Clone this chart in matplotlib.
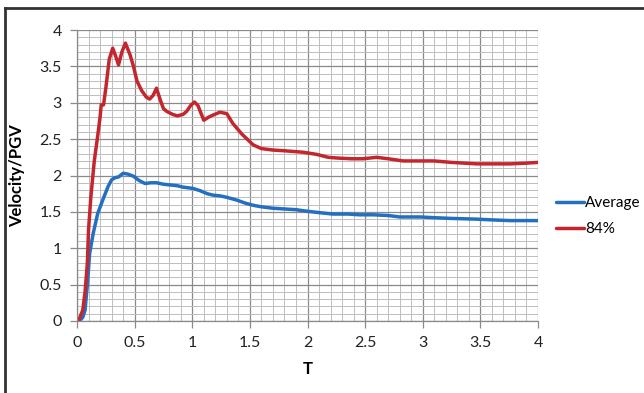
import matplotlib
matplotlib.use("Agg")
import matplotlib.pyplot as plt
from matplotlib.lines import Line2D
from matplotlib.ticker import MultipleLocator

# ---------------- data ----------------
t_avg = [0.0, 0.02, 0.05, 0.07, 0.09, 0.11, 0.14, 0.18, 0.23, 0.27, 0.3, 0.33, 0.36, 0.4, 0.44,
         0.49, 0.54, 0.59, 0.64, 0.69, 0.75, 0.81, 0.87, 0.92, 0.97, 1.01, 1.07, 1.13, 1.18,
         1.24, 1.3, 1.39, 1.46, 1.53, 1.6, 1.7, 1.8, 1.9, 1.99, 2.1, 2.22, 2.35, 2.45, 2.57,
         2.7, 2.8, 2.9, 2.98, 3.1, 3.25, 3.47, 3.6, 3.76, 3.9, 4.0]
avg = [0.0, 0.0, 0.05, 0.15, 0.5, 0.93, 1.2, 1.48, 1.69, 1.85, 1.94, 1.97, 1.98, 2.03, 2.02,
       1.99, 1.93, 1.89, 1.9, 1.9, 1.88, 1.87, 1.86, 1.84, 1.83, 1.82, 1.79, 1.75, 1.73,
       1.72, 1.7, 1.66, 1.62, 1.59, 1.57, 1.55, 1.54, 1.53, 1.51, 1.49, 1.47, 1.47, 1.46, 1.46,
       1.45, 1.43, 1.43, 1.43, 1.42, 1.41, 1.40, 1.39, 1.38, 1.38, 1.38]

t_84 = [0.0, 0.02, 0.05, 0.07, 0.09, 0.1, 0.12, 0.15, 0.18, 0.2, 0.21, 0.23, 0.25, 0.28, 0.31,
        0.34, 0.36, 0.39, 0.42, 0.46, 0.49, 0.52, 0.56, 0.6, 0.63, 0.66, 0.69, 0.72, 0.75,
        0.78, 0.83, 0.87, 0.92, 0.95, 0.99, 1.02, 1.05, 1.08, 1.1, 1.14, 1.18, 1.24, 1.3, 1.35,
        1.43, 1.53, 1.6, 1.7, 1.8, 1.96, 2.08, 2.18, 2.26, 2.38, 2.48, 2.6, 2.7, 2.83, 2.98,
        3.1, 3.25, 3.47, 3.6, 3.76, 3.9, 4.0]
p84 = [0.0, 0.03, 0.15, 0.4, 0.8, 1.25, 1.7, 2.2, 2.55, 2.8, 2.97, 2.97, 3.2, 3.6, 3.75,
       3.62, 3.52, 3.7, 3.82, 3.66, 3.5, 3.3, 3.17, 3.08, 3.05, 3.1, 3.2, 3.05, 2.92,
       2.88, 2.84, 2.82, 2.84, 2.88, 2.97, 3.01, 2.96, 2.84, 2.76, 2.8, 2.83, 2.87, 2.85, 2.72,
       2.57, 2.42, 2.37, 2.35, 2.34, 2.32, 2.29, 2.25, 2.24, 2.23, 2.23, 2.25, 2.23, 2.2, 2.2,
       2.2, 2.18, 2.16, 2.16, 2.16, 2.17, 2.18]

x_ticks = [0, 0.5, 1, 1.5, 2, 2.5, 3, 3.5, 4]
x_ticklabels = ["0", "0.5", "1", "1.5", "2", "2.5", "3", "3.5", "4"]
y_ticks = [0, 0.5, 1, 1.5, 2, 2.5, 3, 3.5, 4]
y_ticklabels = ["0", "0.5", "1", "1.5", "2", "2.5", "3", "3.5", "4"]
series_names = ["Average", "84%"]

# ---------------- style ----------------
plt.rcParams['font.family'] = ['Lato', 'DejaVu Sans']

blue = "#2470C0"
red = "#C4262E"

fig = plt.figure(figsize=(6.44, 3.93), dpi=100)
ax = fig.add_axes([77/644, 1 - 321/393, (538-77)/644, (321-30)/393])

ax.plot(t_avg, avg, color=blue, lw=2.5, label=series_names[0], solid_capstyle='round')
ax.plot(t_84, p84, color=red, lw=2.5, label=series_names[1], solid_capstyle='round')

ax.set_xlim(0, 4)
ax.set_ylim(0, 4)
ax.set_xticks(x_ticks)
ax.set_xticklabels(x_ticklabels)
ax.set_yticks(y_ticks)
ax.set_yticklabels(y_ticklabels)
ax.xaxis.set_minor_locator(MultipleLocator(0.1))
ax.yaxis.set_minor_locator(MultipleLocator(0.1))
ax.grid(which='major', color='#8a8a8a', lw=0.9)
ax.grid(which='minor', color='#bdbdbd', lw=0.7)
ax.set_axisbelow(True)
for s in ['top', 'right']:
    ax.spines[s].set_visible(False)
for s in ['bottom', 'left']:
    ax.spines[s].set_color('#8a8a8a')
    ax.spines[s].set_linewidth(0.9)
ax.tick_params(which='major', direction='out', length=5, color='#8a8a8a', width=0.9,
               labelsize=11.5, labelcolor='#222222', pad=6)
ax.tick_params(which='minor', length=0)

ax.set_xlabel("T", fontsize=12, fontweight='bold', labelpad=8)
ax.set_ylabel("Velocity/PGV", fontsize=12, fontweight='bold', labelpad=10)

fig.legend(loc='center left', bbox_to_anchor=(550/644, 1 - 216/393), frameon=False,
           fontsize=11, handlelength=1.8, handletextpad=0.1, labelspacing=0.8,
           borderaxespad=0)

# outer frame (partially visible)
fig.add_artist(Line2D([5/644, 1.0], [1 - 8/393, 1 - 8/393], color='#333333', lw=2.0,
                      transform=fig.transFigure))
fig.add_artist(Line2D([5/644, 5/644], [0.0, 1 - 8/393], color='#333333', lw=2.0,
                      transform=fig.transFigure))

fig.savefig("out.png", dpi=100)
